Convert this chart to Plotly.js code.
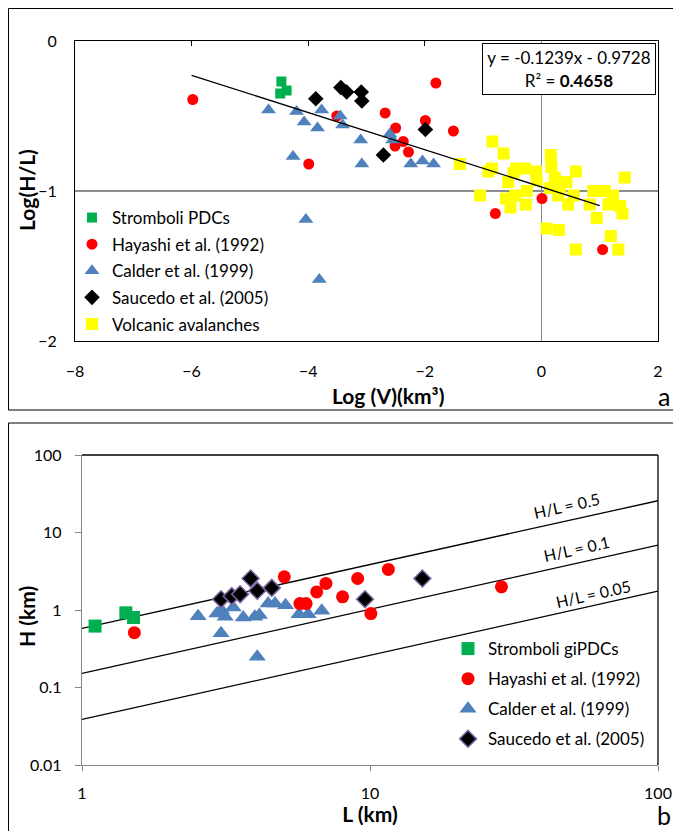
<!DOCTYPE html>
<html><head><meta charset="utf-8">
<script src="https://cdn.plot.ly/plotly-3.0.1.min.js"></script>
<style>html,body{margin:0;padding:0;background:#fff}</style>
</head><body>
<div id="chart" style="width:673px;height:831px"></div>
<script>
// ---------- Panel a : Log(H/L) vs Log(V) ----------
const strombA_x = [-4.46, -4.37, -4.48];
const strombA_y = [-0.27, -0.33, -0.35];

const hayA_x = [-5.98, -3.99, -3.51, -1.81, -2.68, -1.99, -2.50, -1.51, -2.51, -2.37, -2.28, 0.01, -0.79, 1.05];
const hayA_y = [-0.39, -0.82, -0.50, -0.28, -0.48, -0.53, -0.58, -0.60, -0.70, -0.67, -0.74, -1.05, -1.15, -1.39];

const calA_x = [-4.68, -4.20, -4.07, -3.77, -3.84, -3.45, -3.41, -3.10, -4.26, -3.08, -4.04, -3.81, -2.60, -2.55, -2.24, -2.04, -1.85];
const calA_y = [-0.46, -0.47, -0.54, -0.46, -0.58, -0.50, -0.56, -0.66, -0.77, -0.82, -1.19, -1.59, -0.62, -0.66, -0.82, -0.80, -0.82];

const sauA_x = [-3.87, -3.44, -3.34, -3.09, -3.08, -2.71, -1.99];
const sauA_y = [-0.385, -0.31, -0.34, -0.34, -0.40, -0.76, -0.59];

const volA_x = [-0.84,-0.65,0.16,-1.40,-0.85,-0.91,0.17,0.59,-0.43,-0.28,-0.48,-0.09,-0.57,-0.08,0.23,0.43,1.43,-1.05,-0.61,-0.45,-0.25,-0.27,-0.53,0.15,0.32,0.29,0.55,0.46,0.89,1.09,1.23,0.83,1.15,1.35,0.95,1.39,0.09,0.30,1.19,0.59,1.32];
const volA_y = [-0.67,-0.75,-0.76,-0.82,-0.85,-0.87,-0.84,-0.87,-0.85,-0.85,-0.88,-0.87,-0.94,-0.93,-0.91,-0.94,-0.91,-1.03,-1.05,-1.03,-1.00,-1.09,-1.11,-0.98,-0.98,-1.03,-1.03,-1.09,-1.00,-1.00,-1.03,-1.09,-1.09,-1.10,-1.18,-1.15,-1.25,-1.26,-1.30,-1.39,-1.39];

const trendX = [-6, 1.0];
const trendY = [-0.229, -1.097];

const xTicksA = [-8, -6, -4, -2, 0, 2];
const yTicksA = [-2, -1, 0];

// ---------- Panel b : H vs L ----------
const strombB_L = [1.11, 1.42, 1.51];
const strombB_H = [0.62, 0.92, 0.80];

const hayB_L = [1.52, 5.04, 5.71, 6.0, 6.53, 7.03, 8.03, 9.06, 10.07, 11.58, 28.6];
const hayB_H = [0.51, 2.68, 1.21, 1.21, 1.71, 2.2, 1.48, 2.55, 0.90, 3.34, 1.99];

const calB_L = [2.53, 2.94, 3.05, 3.14, 3.04, 3.35, 3.63, 3.98, 4.13, 4.06, 4.43, 4.68, 5.09, 5.67, 6.10, 6.80];
const calB_H = [0.83, 0.90, 1.0, 0.82, 0.50, 1.08, 0.80, 0.82, 0.86, 0.25, 1.21, 1.21, 1.15, 0.88, 0.88, 0.98];

const sauB_L = [3.04, 3.31, 3.54, 3.85, 4.06, 4.56, 9.61, 15.2];
const sauB_H = [1.38, 1.51, 1.60, 2.55, 1.77, 1.93, 1.38, 2.55];

const refL = [1, 100];
const line05 = [0.58, 25.7];
const line01 = [0.152, 6.87];
const line005 = [0.0388, 1.75];

const xTicksB = [1, 10, 100];
const yTicksB = [0.01, 0.1, 1, 10, 100];
const yTickTextB = ['0.01', '0.1', '1', '10', '100'];

// ---------- styles ----------
const FONT = 'Lato, "Open Sans", sans-serif';
const GREEN = '#00b050', RED = '#ff0000', BLUE = '#4f81bd', BLACK = '#000000', YELLOW = '#ffff00';
const GRAY = '#868686';

const traces = [
  // panel a
  {x: volA_x, y: volA_y, name: 'Volcanic avalanches', mode: 'markers', type: 'scatter',
   marker: {symbol: 'square', color: YELLOW, size: 12}, legendrank: 5, legendgroup: 'a5', xaxis: 'x', yaxis: 'y'},
  {x: hayA_x, y: hayA_y, name: 'Hayashi et al. (1992)', mode: 'markers', type: 'scatter',
   marker: {symbol: 'circle', color: RED, size: 11}, legendrank: 2, legendgroup: 'a2', xaxis: 'x', yaxis: 'y'},
  {x: calA_x, y: calA_y, name: 'Calder et al. (1999)', mode: 'markers', type: 'scatter',
   marker: {symbol: 'triangle-up', color: BLUE, size: 13}, legendrank: 3, legendgroup: 'a3', xaxis: 'x', yaxis: 'y'},
  {x: sauA_x, y: sauA_y, name: 'Saucedo et al. (2005)', mode: 'markers', type: 'scatter',
   marker: {symbol: 'diamond', color: BLACK, size: 12}, legendrank: 4, legendgroup: 'a4', xaxis: 'x', yaxis: 'y'},
  {x: strombA_x, y: strombA_y, name: 'Stromboli PDCs', mode: 'markers', type: 'scatter',
   marker: {symbol: 'square', color: GREEN, size: 10}, legendrank: 1, legendgroup: 'a1', xaxis: 'x', yaxis: 'y'},
  {x: trendX, y: trendY, mode: 'lines', type: 'scatter', line: {color: BLACK, width: 1.3},
   showlegend: false, hoverinfo: 'skip', xaxis: 'x', yaxis: 'y'},
  // invisible trace to carry the top tick axis
  {x: [], y: [], mode: 'markers', type: 'scatter', showlegend: false, xaxis: 'x3', yaxis: 'y'},

  // panel b
  {x: refL, y: line05, mode: 'lines', type: 'scatter', line: {color: BLACK, width: 1.3}, showlegend: false, xaxis: 'x2', yaxis: 'y2'},
  {x: refL, y: line01, mode: 'lines', type: 'scatter', line: {color: BLACK, width: 1.3}, showlegend: false, xaxis: 'x2', yaxis: 'y2'},
  {x: refL, y: line005, mode: 'lines', type: 'scatter', line: {color: BLACK, width: 1.3}, showlegend: false, xaxis: 'x2', yaxis: 'y2'},
  {x: calB_L, y: calB_H, name: 'Calder et al. (1999)', mode: 'markers', type: 'scatter',
   marker: {symbol: 'triangle-up', color: BLUE, size: 15}, legend: 'legend2', legendrank: 3, legendgroup: 'b3', xaxis: 'x2', yaxis: 'y2'},
  {x: hayB_L, y: hayB_H, name: 'Hayashi et al. (1992)', mode: 'markers', type: 'scatter',
   marker: {symbol: 'circle', color: RED, size: 13}, legend: 'legend2', legendrank: 2, legendgroup: 'b2', xaxis: 'x2', yaxis: 'y2'},
  {x: sauB_L, y: sauB_H, name: 'Saucedo et al. (2005)', mode: 'markers', type: 'scatter',
   marker: {symbol: 'diamond', color: BLACK, size: 13, line: {color: '#7a65a0', width: 1.5}}, legend: 'legend2', legendrank: 4, legendgroup: 'b4', xaxis: 'x2', yaxis: 'y2'},
  {x: strombB_L, y: strombB_H, name: 'Stromboli giPDCs', mode: 'markers', type: 'scatter',
   marker: {symbol: 'square', color: GREEN, size: 13}, legend: 'legend2', legendrank: 1, legendgroup: 'b1', xaxis: 'x2', yaxis: 'y2'}
];

const W = 673, H = 831;
const px = v => v / W;
const py = v => (H - v) / H;

const tickFont = {family: FONT, size: 16, color: '#000'};
const titleFont = {family: FONT, size: 21, color: '#000'};

const layout = {
  width: W, height: H,
  margin: {l: 0, r: 0, t: 0, b: 0},
  paper_bgcolor: '#fff', plot_bgcolor: '#fff',
  font: {family: FONT, color: '#000'},
  showlegend: true,
  xaxis: {domain: [px(75), px(658)], anchor: 'y', range: [-8, 2], tickvals: xTicksA, ticks: '',
          showline: true, linecolor: BLACK, linewidth: 1, mirror: true, showgrid: false,
          zeroline: true, zerolinecolor: '#8c8c8c', zerolinewidth: 1.3,
          tickfont: tickFont, ticklabelstandoff: 16, automargin: false, fixedrange: true},
  xaxis3: {overlaying: 'x', matches: 'x', anchor: 'y', side: 'top', tickvals: [-6, -4, -2],
           ticks: 'inside', ticklen: 5, tickcolor: BLACK, showticklabels: false, showline: false,
           showgrid: false, zeroline: false, automargin: false},
  yaxis: {domain: [py(341), py(41)], anchor: 'x', range: [-2, 0], tickvals: yTicksA, ticks: '',
          showline: true, linecolor: BLACK, linewidth: 1, mirror: true,
          showgrid: true, gridcolor: '#8c8c8c', gridwidth: 1.3, zeroline: false,
          tickfont: tickFont, ticklabelstandoff: 14, automargin: false},

  xaxis2: {domain: [px(82), px(658)], anchor: 'y2', type: 'log', range: [0, 2],
           tickvals: xTicksB, ticktext: ['1', '10', '100'], ticks: 'outside', ticklen: 5, tickcolor: GRAY,
           showline: true, linecolor: GRAY, linewidth: 1.3, showgrid: false, zeroline: false,
           tickfont: tickFont, ticklabelstandoff: 8, automargin: false,
           title: {text: '<b>L (km)</b>', font: titleFont, standoff: 2}},
  yaxis2: {domain: [py(765), py(455)], anchor: 'x2', type: 'log', range: [-2, 2],
           tickvals: yTicksB, ticktext: yTickTextB, ticks: 'outside', ticklen: 6, tickcolor: GRAY,
           showline: true, linecolor: GRAY, linewidth: 1.3, showgrid: false, zeroline: false,
           tickfont: tickFont, ticklabelstandoff: 10, automargin: false},

  legend: {x: px(72), y: py(200), xanchor: 'left', yanchor: 'top', bgcolor: 'rgba(0,0,0,0)',
           font: {family: FONT, size: 17}, tracegroupgap: 1.5, traceorder: 'grouped', borderwidth: 0},
  legend2: {x: px(448), y: py(631), xanchor: 'left', yanchor: 'top', bgcolor: 'rgba(0,0,0,0)',
            font: {family: FONT, size: 17}, tracegroupgap: 5, traceorder: 'grouped', borderwidth: 0},

  shapes: [
    // panel frames
    {type: 'rect', xref: 'paper', yref: 'paper', x0: px(8.5), x1: 1.02, y0: py(410), y1: py(8.5),
     line: {color: '#000', width: 1}, fillcolor: 'rgba(0,0,0,0)', layer: 'below'},
    {type: 'rect', xref: 'paper', yref: 'paper', x0: px(8.5), x1: 1.02, y0: -0.02, y1: py(423),
     line: {color: '#000', width: 1}, fillcolor: 'rgba(0,0,0,0)', layer: 'below'},
    // panel b top and right borders
    {type: 'line', xref: 'x2 domain', yref: 'y2 domain', x0: 0, x1: 1, y0: 1, y1: 1, line: {color: '#000', width: 1.3}},
    {type: 'line', xref: 'x2 domain', yref: 'y2 domain', x0: 1, x1: 1, y0: 0, y1: 1, line: {color: '#000', width: 1.3}}
  ],

  annotations: [
    {xref: 'paper', yref: 'paper', x: px(569), y: py(69), xanchor: 'center', yanchor: 'middle',
     text: 'y = -0.1239x - 0.9728<br>R² = <b>0.4658</b>', showarrow: false, align: 'center',
     font: {family: FONT, size: 17}, bgcolor: '#fff', bordercolor: '#000', borderwidth: 1,
     borderpad: 2, width: 168, height: 46},
    {xref: 'paper', yref: 'paper', x: px(388), y: py(395), xanchor: 'center', yanchor: 'middle',
     text: '<b>Log (V)(km³)</b>', showarrow: false, font: titleFont},
    {xref: 'paper', yref: 'paper', x: px(26), y: py(190), xanchor: 'center', yanchor: 'middle',
     text: '<b>Log(H/L)</b>', textangle: -90, showarrow: false, font: titleFont},
    {xref: 'paper', yref: 'paper', x: px(26), y: py(617), xanchor: 'center', yanchor: 'middle',
     text: '<b>H (km)</b>', textangle: -90, showarrow: false, font: titleFont},
    {xref: 'paper', yref: 'paper', x: px(664), y: py(396), xanchor: 'center', yanchor: 'middle',
     text: 'a', showarrow: false, font: {family: FONT, size: 25}},
    {xref: 'paper', yref: 'paper', x: px(664), y: py(815), xanchor: 'center', yanchor: 'middle',
     text: 'b', showarrow: false, font: {family: FONT, size: 25}},
    {xref: 'x2', yref: 'y2', x: 1.682, y: 1.354, text: 'H/L = 0.5', textangle: -12.5, showarrow: false,
     font: {family: FONT, size: 16}},
    {xref: 'x2', yref: 'y2', x: 1.717, y: 0.798, text: 'H/L = 0.1', textangle: -12.5, showarrow: false,
     font: {family: FONT, size: 16}},
    {xref: 'x2', yref: 'y2', x: 1.776, y: 0.217, text: 'H/L = 0.05', textangle: -12.5, showarrow: false,
     font: {family: FONT, size: 16}}
  ]
};

Plotly.newPlot('chart', traces, layout, {displayModeBar: false, staticPlot: true});
</script>
</body></html>
